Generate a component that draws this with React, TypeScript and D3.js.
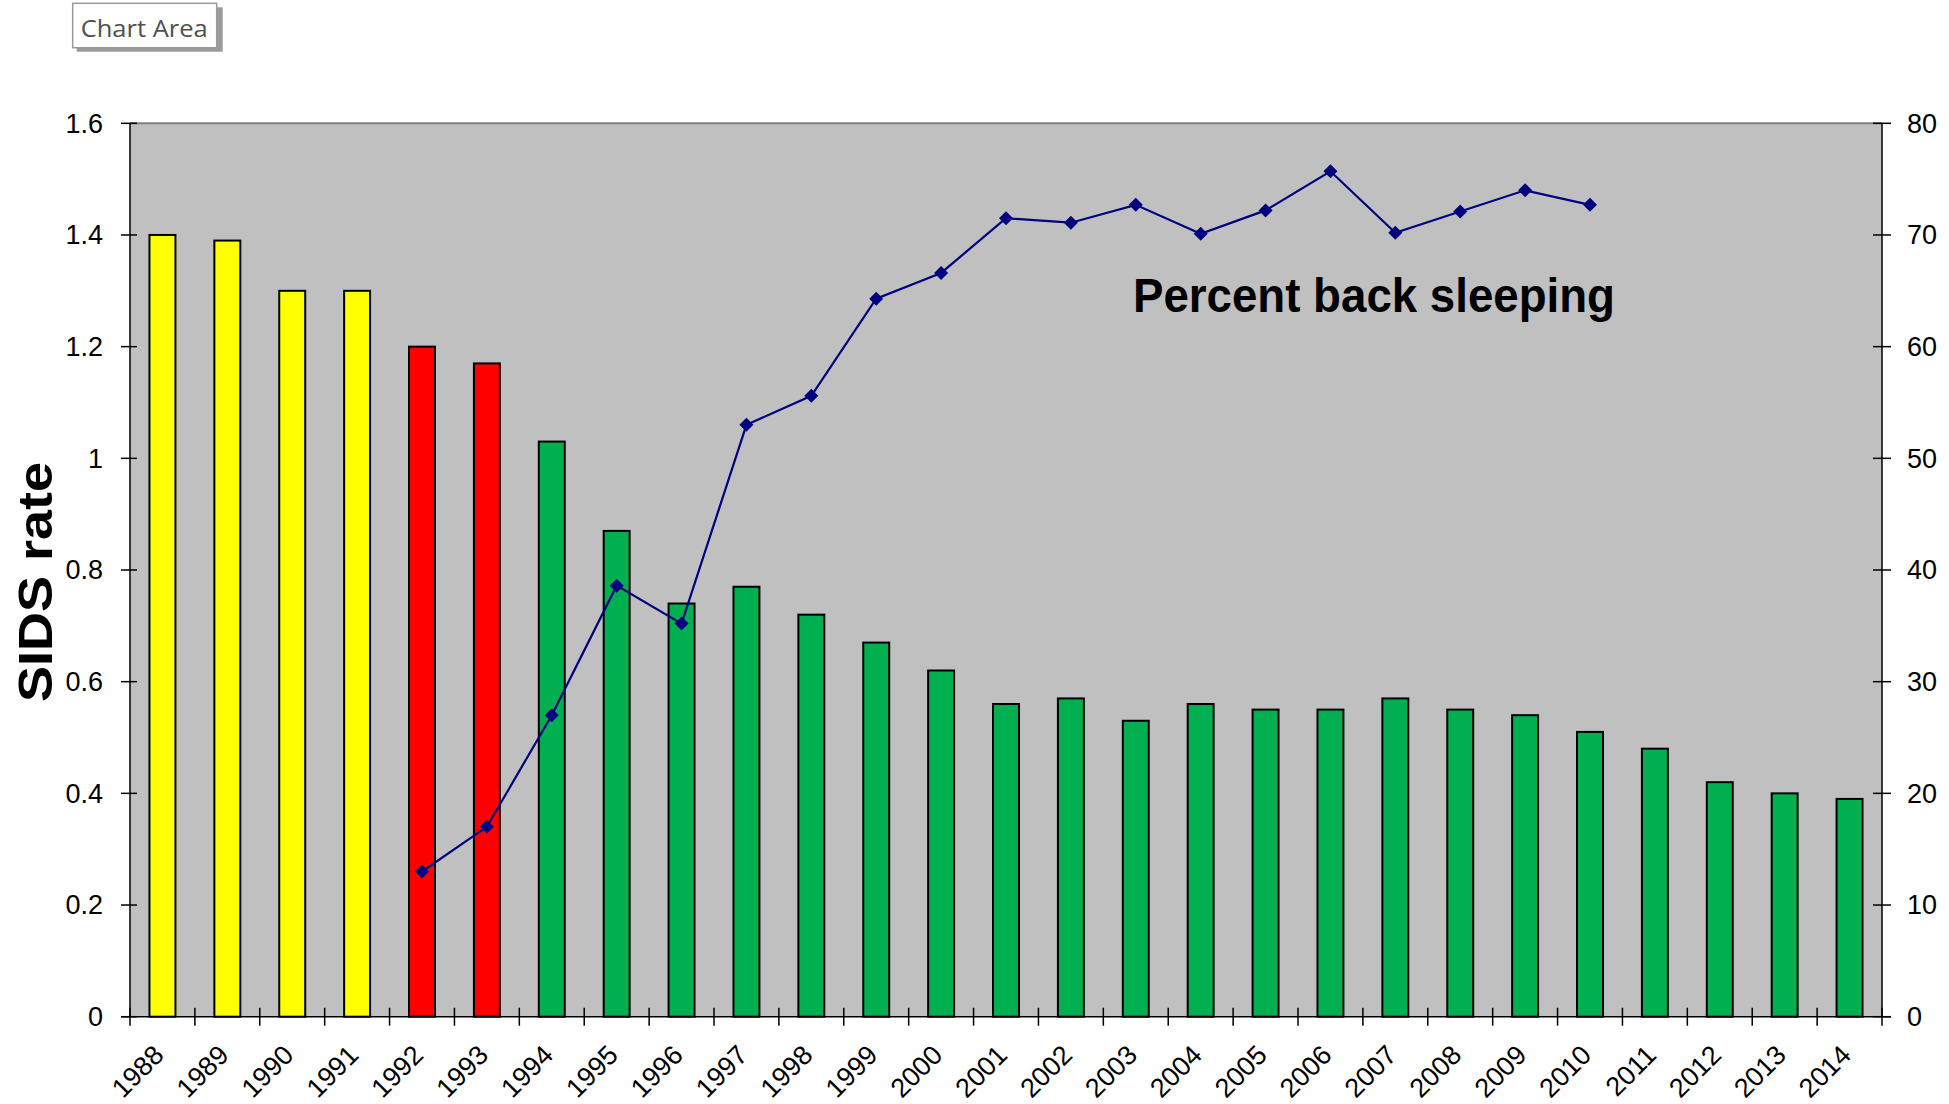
import React from "react";
import * as d3 from "d3";

// SIDS rate per 1,000 live births, by year
const years = [
  "1988", "1989", "1990", "1991", "1992", "1993", "1994", "1995", "1996",
  "1997", "1998", "1999", "2000", "2001", "2002", "2003", "2004", "2005",
  "2006", "2007", "2008", "2009", "2010", "2011", "2012", "2013", "2014",
];
const sidsRate = [
  1.4, 1.39, 1.3, 1.3, 1.2, 1.17, 1.03, 0.87, 0.74, 0.77, 0.72, 0.67, 0.62,
  0.56, 0.57, 0.53, 0.56, 0.55, 0.55, 0.57, 0.55, 0.54, 0.51, 0.48, 0.42,
  0.4, 0.39,
];
// period each year belongs to, drives the bar fill
const period = [
  "before", "before", "before", "before", "campaign", "campaign",
  "after", "after", "after", "after", "after", "after", "after", "after",
  "after", "after", "after", "after", "after", "after", "after", "after",
  "after", "after", "after", "after", "after",
];
const periodColors: Record<string, string> = {
  before: "#FFFF00",
  campaign: "#FF0000",
  after: "#00B050",
};

// percent of infants placed on their back to sleep
const backYears = [
  "1992", "1993", "1994", "1995", "1996", "1997", "1998", "1999", "2000",
  "2001", "2002", "2003", "2004", "2005", "2006", "2007", "2008", "2009",
  "2010",
];
const backPercent = [
  13, 17, 27, 38.6, 35.2, 53, 55.6, 64.3, 66.6, 71.5, 71.1, 72.7, 70.1, 72.2,
  75.7, 70.2, 72.1, 74, 72.7,
];

const leftTicks = [0, 0.2, 0.4, 0.6, 0.8, 1, 1.2, 1.4, 1.6];
const rightTicks = [0, 10, 20, 30, 40, 50, 60, 70, 80];

const W = 1949;
const H = 1104;
const plot = { left: 130, right: 1882, top: 123.3, bottom: 1016.7 };
const FONT = "'Liberation Sans', Arial, sans-serif";

export default function App() {
  const x = d3
    .scaleBand<string>()
    .domain(years)
    .range([plot.left, plot.right])
    .paddingInner(0.6)
    .paddingOuter(0.3);
  const step = x.step();
  const bw = x.bandwidth();
  const cx = (y: string) => (x(y) as number) + bw / 2;

  const yL = d3.scaleLinear().domain([0, 1.6]).range([plot.bottom, plot.top]);
  const yR = d3.scaleLinear().domain([0, 80]).range([plot.bottom, plot.top]);
  const fmt = d3.format("~g");

  const linePts = backYears.map((yr, i) => [cx(yr), yR(backPercent[i])] as [number, number]);
  const linePath = d3.line()(linePts) || "";
  const d = 7;

  return (
    <svg
      width={W}
      height={H}
      style={{ position: "absolute", left: 0, top: 0, background: "#fff" }}
      fontFamily={FONT}
    >
      {/* plot area */}
      <rect
        x={plot.left}
        y={plot.top}
        width={plot.right - plot.left}
        height={plot.bottom - plot.top}
        fill="#C0C0C0"
      />
      <line x1={plot.left} x2={plot.right} y1={plot.top} y2={plot.top} stroke="#808080" strokeWidth={2} />

      {/* bars */}
      {years.map((yr, i) => (
        <rect
          key={yr}
          x={x(yr)}
          y={yL(sidsRate[i])}
          width={bw}
          height={plot.bottom - yL(sidsRate[i])}
          fill={periodColors[period[i]]}
          stroke="#000"
          strokeWidth={2}
        />
      ))}

      {/* axes */}
      <line x1={plot.left} x2={plot.left} y1={plot.top} y2={plot.bottom} stroke="#000" strokeWidth={1.5} />
      <line x1={plot.right} x2={plot.right} y1={plot.top} y2={plot.bottom} stroke="#000" strokeWidth={1.5} />
      <line x1={plot.left - 9} x2={plot.right + 9} y1={plot.bottom} y2={plot.bottom} stroke="#000" strokeWidth={1.5} />

      {leftTicks.map((t) => (
        <g key={"l" + t}>
          <line x1={plot.left - 9} x2={plot.left + 7} y1={yL(t)} y2={yL(t)} stroke="#000" strokeWidth={1.5} />
          <text x={103} y={yL(t)} dy="0.35em" textAnchor="end" fontSize={27} fill="#000">
            {fmt(t)}
          </text>
        </g>
      ))}
      {rightTicks.map((t) => (
        <g key={"r" + t}>
          <line x1={plot.right - 9} x2={plot.right + 9} y1={yR(t)} y2={yR(t)} stroke="#000" strokeWidth={1.5} />
          <text x={1907} y={yR(t)} dy="0.35em" textAnchor="start" fontSize={27} fill="#000">
            {t}
          </text>
        </g>
      ))}
      {d3.range(years.length + 1).map((i) => {
        const px = plot.left + i * step;
        return (
          <line key={"xt" + i} x1={px} x2={px} y1={plot.bottom - 9} y2={plot.bottom + 9} stroke="#000" strokeWidth={1.5} />
        );
      })}
      {years.map((yr) => (
        <text
          key={"xl" + yr}
          transform={`translate(${cx(yr) + 3},${plot.bottom + 40}) rotate(-45)`}
          textAnchor="end"
          fontSize={27}
          fill="#000"
        >
          {yr}
        </text>
      ))}

      {/* back-sleeping line */}
      <path d={linePath} fill="none" stroke="#000080" strokeWidth={2.2} />
      {linePts.map(([px, py], i) => (
        <path
          key={"m" + i}
          d={`M${px},${py - d}L${px + d},${py}L${px},${py + d}L${px - d},${py}Z`}
          fill="#000080"
        />
      ))}

      {/* labels */}
      <text
        x={1133}
        y={312}
        fontSize={48}
        fontWeight="bold"
        fill="#000"
        textLength={482}
        lengthAdjust="spacingAndGlyphs"
      >
        Percent back sleeping
      </text>
      <text
        transform={`translate(51.5,582) rotate(-90)`}
        textAnchor="middle"
        fontSize={48}
        fontWeight="bold"
        fill="#000"
        textLength={240}
        lengthAdjust="spacingAndGlyphs"
      >
        SIDS rate
      </text>

      {/* chart-area tooltip */}
      <rect x={76.7} y={7.3} width={146} height={44.4} fill="#9a9a9a" />
      <rect x={72.7} y={3.3} width={144} height={44.4} fill="#fff" stroke="#9a9a9a" strokeWidth={1.5} />
      <text
        x={80.7}
        y={36.7}
        fontFamily="'Open Sans', 'Noto Sans', sans-serif"
        fontSize={23}
        fill="#505050"
        textLength={127}
        lengthAdjust="spacingAndGlyphs"
      >
        Chart Area
      </text>
    </svg>
  );
}
